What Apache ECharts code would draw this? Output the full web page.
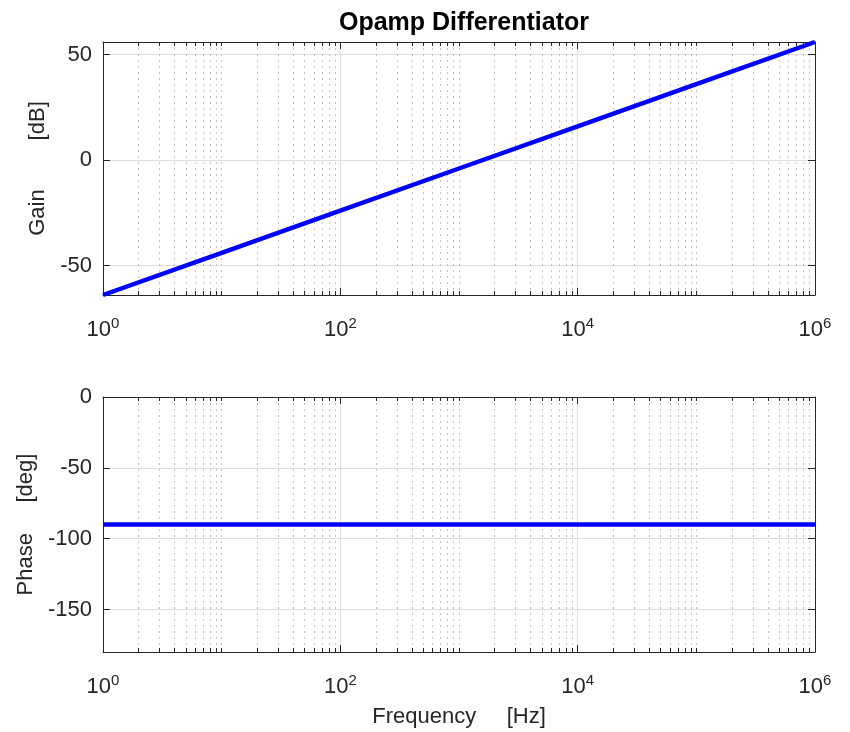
<!DOCTYPE html>
<html>
<head>
<meta charset="utf-8">
<title>Opamp Differentiator</title>
<script src="https://cdn.jsdelivr.net/npm/echarts@6/dist/echarts.min.js"></script>
<style>
  html, body { margin: 0; padding: 0; background: #ffffff; }
  #chart { width: 850px; height: 732px; }
</style>
</head>
<body>
<div id="chart"></div>
<script>
// Frequency response of an ideal op-amp differentiator
const freqHz   = [1, 10, 100, 1000, 10000, 100000, 1000000];
const gainDb   = [-64, -44, -24, -4, 16, 36, 56];
const phaseDeg = [-90, -90, -90, -90, -90, -90, -90];

// Axis ticks
const freqTicks  = [1, 100, 10000, 1000000];
const gainTicks  = [-50, 0, 50];
const phaseTicks = [-150, -100, -50, 0];
const phaseRange = [-180, 0];
const freqRange  = [1, 1000000];

// Minor log gridlines: 2..9 x 10^k, plus the unlabelled decades
const freqMinor = [];
for (let k = 0; k < 6; k++) {
  for (let m = 1; m <= 9; m++) {
    const v = m * Math.pow(10, k);
    if (freqTicks.indexOf(v) < 0) freqMinor.push(v);
  }
}

const FONT = "'Liberation Sans', Arial, Helvetica, sans-serif";
const AX = '#262626';
const MAJOR_GRID = '#dedede';
const MINOR_GRID = '#c4c4c4';

const chart = echarts.init(document.getElementById('chart'), null, { renderer: 'canvas' });

function freqLabel(val) {
  const e = Math.round(Math.log10(val));
  return '{b|10}{s|' + e + '}';
}

function xAxesFor(gi, name) {
  const base = { type: 'log', logBase: 10, min: freqRange[0], max: freqRange[1], gridIndex: gi };
  return [
    Object.assign({}, base, {
      position: 'bottom',
      axisLine: { show: true, onZero: false, lineStyle: { color: AX, width: 1 } },
      axisTick: { show: true, inside: true, length: 7, customValues: freqTicks, lineStyle: { color: AX } },
      axisLabel: {
        show: true, customValues: freqTicks, margin: 21, formatter: freqLabel,
        rich: {
          b: { fontSize: 22, color: AX, fontFamily: FONT },
          s: { fontSize: 15, color: AX, fontFamily: FONT, padding: [0, 0, 13, 0] }
        }
      },
      splitLine: { show: true, lineStyle: { color: MAJOR_GRID, width: 1 } },
      name: name, nameLocation: 'middle', nameGap: 54,
      nameTextStyle: { fontSize: 22, color: AX, fontFamily: FONT }
    }),
    Object.assign({}, base, {
      position: 'bottom',
      axisLine: { show: false, onZero: false },
      axisTick: { show: true, inside: true, length: 4, customValues: freqMinor, lineStyle: { color: AX } },
      axisLabel: { show: false },
      splitLine: { show: true, lineStyle: { color: MINOR_GRID, width: 1, type: [2, 4] } }
    }),
    Object.assign({}, base, {
      position: 'top',
      axisLine: { show: true, onZero: false, lineStyle: { color: AX, width: 1 } },
      axisTick: { show: true, inside: true, length: 7, customValues: freqTicks, lineStyle: { color: AX } },
      axisLabel: { show: false },
      splitLine: { show: false }
    }),
    Object.assign({}, base, {
      position: 'top',
      axisLine: { show: false, onZero: false },
      axisTick: { show: true, inside: true, length: 4, customValues: freqMinor, lineStyle: { color: AX } },
      axisLabel: { show: false },
      splitLine: { show: false }
    })
  ];
}

function yAxesFor(gi, lo, hi, ticks, name, gap) {
  const base = { type: 'value', gridIndex: gi, min: lo, max: hi };
  return [
    Object.assign({}, base, {
      position: 'left',
      axisLine: { show: true, onZero: false, lineStyle: { color: AX, width: 1 } },
      axisTick: { show: true, inside: true, length: 7, customValues: ticks, lineStyle: { color: AX } },
      axisLabel: { show: true, customValues: ticks, margin: 11, fontSize: 22, color: AX, fontFamily: FONT },
      splitLine: { show: true, lineStyle: { color: MAJOR_GRID, width: 1 } },
      name: name, nameLocation: 'middle', nameGap: gap,
      nameTextStyle: { fontSize: 22, color: AX, fontFamily: FONT }
    }),
    Object.assign({}, base, {
      position: 'right',
      axisLine: { show: true, onZero: false, lineStyle: { color: AX, width: 1 } },
      axisTick: { show: true, inside: true, length: 7, customValues: ticks, lineStyle: { color: AX } },
      axisLabel: { show: false },
      splitLine: { show: false }
    })
  ];
}

const gainRange = [Math.min.apply(null, gainDb), Math.max.apply(null, gainDb)];

const option = {
  backgroundColor: '#ffffff',
  animation: false,
  title: {
    text: 'Opamp Differentiator',
    left: 459, top: 6, textAlign: 'center',
    textStyle: { fontSize: 25, fontWeight: 'bold', color: '#000000', fontFamily: FONT }
  },
  grid: [
    { left: 103, top: 42, width: 712, height: 253, outerBoundsMode: 'none' },
    { left: 103, top: 397, width: 712, height: 255, outerBoundsMode: 'none' }
  ],
  xAxis: xAxesFor(0, '').concat(xAxesFor(1, 'Frequency     [Hz]')),
  yAxis: yAxesFor(0, gainRange[0], gainRange[1], gainTicks, 'Gain        [dB]', 49)
    .concat(yAxesFor(1, phaseRange[0], phaseRange[1], phaseTicks, 'Phase     [deg]', 61)),
  series: [
    {
      type: 'line', xAxisIndex: 0, yAxisIndex: 0,
      data: freqHz.map((f, i) => [f, gainDb[i]]),
      showSymbol: false, clip: false, silent: true,
      lineStyle: { color: '#0000ff', width: 4.5 }
    },
    {
      type: 'line', xAxisIndex: 4, yAxisIndex: 2,
      data: freqHz.map((f, i) => [f, phaseDeg[i]]),
      showSymbol: false, clip: false, silent: true,
      lineStyle: { color: '#0000ff', width: 4.5 }
    }
  ]
};

chart.setOption(option);
</script>
</body>
</html>
